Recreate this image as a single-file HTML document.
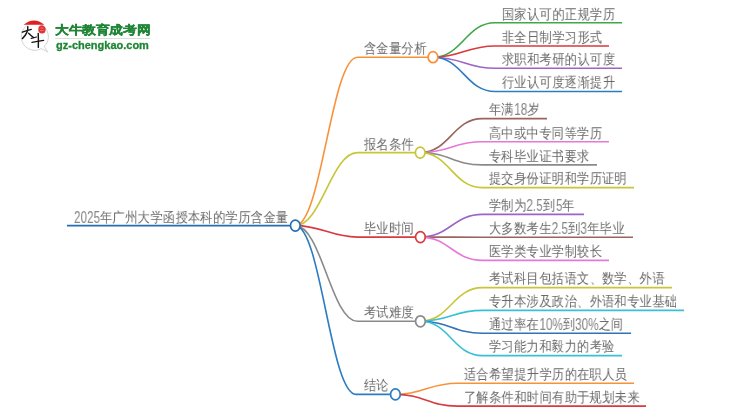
<!DOCTYPE html>
<html><head><meta charset="utf-8"><style>
html,body{margin:0;padding:0;background:#fff;width:750px;height:410px;overflow:hidden}
body{position:relative;font-family:"Liberation Sans",sans-serif}
.t{position:absolute;line-height:17.28px;white-space:nowrap;transform-origin:0 0;will-change:transform}
svg.m{position:absolute;left:0;top:0}
.d{display:inline-block;font-size:17px;letter-spacing:0;transform:scaleX(0.79);transform-origin:0 100%;vertical-align:-1px;line-height:1px;color:#858585}
svg.m path{fill:none;stroke-width:1.6px}
svg.m ellipse{fill:#fff;stroke-width:1.7px}
</style></head><body>
<svg class="m" width="750" height="410" viewBox="0 0 750 410">
<path d="M67 225.6 H295.3" stroke="#2270b4"/>
<path d="M295.3 225.6 C321.42 225.6 331.38 57.2 357.5 57.2 H433.0" stroke="#f8923a"/>
<path d="M433.0 57.2 C462.14 57.2 465.86 22.80 495.00 22.80 H622" stroke="#3ca846"/>
<path d="M433.0 57.2 C462.14 57.2 465.86 46.00 495.00 46.00 H609" stroke="#d93a40"/>
<path d="M433.0 57.2 C462.14 57.2 465.86 68.30 495.00 68.30 H622" stroke="#9c64c8"/>
<path d="M433.0 57.2 C462.14 57.2 465.86 91.50 495.00 91.50 H622" stroke="#2d7cc1"/>
<path d="M295.3 225.6 C321.42 225.6 331.38 152.6 357.5 152.6 H420.2" stroke="#c8c538"/>
<path d="M420.2 152.6 C449.34 152.6 453.06 118.60 482.20 118.60 H547" stroke="#9a645c"/>
<path d="M420.2 152.6 C449.34 152.6 453.06 141.70 482.20 141.70 H609" stroke="#e678d8"/>
<path d="M420.2 152.6 C449.34 152.6 453.06 164.90 482.20 164.90 H597" stroke="#8a8a8a"/>
<path d="M420.2 152.6 C449.34 152.6 453.06 187.60 482.20 187.60 H634" stroke="#c8c538"/>
<path d="M295.3 225.6 C321.42 225.6 331.38 237.1 357.5 237.1 H420.4" stroke="#d93a40"/>
<path d="M420.4 237.1 C449.54 237.1 453.26 214.40 482.40 214.40 H584" stroke="#9c64c8"/>
<path d="M420.4 237.1 C449.54 237.1 453.26 237.20 482.40 237.20 H633" stroke="#9a645c"/>
<path d="M420.4 237.1 C449.54 237.1 453.26 260.40 482.40 260.40 H609" stroke="#e678d8"/>
<path d="M295.3 225.6 C321.42 225.6 331.38 321.3 357.5 321.3 H420.4" stroke="#8a8a8a"/>
<path d="M420.4 321.3 C449.54 321.3 453.26 287.60 482.40 287.60 H672" stroke="#c8c538"/>
<path d="M420.4 321.3 C449.54 321.3 453.26 310.40 482.40 310.40 H684" stroke="#38c0d5"/>
<path d="M420.4 321.3 C449.54 321.3 453.26 333.20 482.40 333.20 H631" stroke="#3273b5"/>
<path d="M420.4 321.3 C449.54 321.3 453.26 355.60 482.40 355.60 H622" stroke="#38c0d5"/>
<path d="M295.3 225.6 C320.79 225.6 330.51 394.4 356.0 394.4 H395.4" stroke="#2d7cc1"/>
<path d="M395.4 394.4 C424.54 394.4 428.26 383.30 457.40 383.30 H634" stroke="#f8923a"/>
<path d="M395.4 394.4 C424.54 394.4 428.26 406.10 457.40 406.10 H646" stroke="#d93a40"/>
<ellipse cx="433.0" cy="57.2" rx="4.85" ry="5.5" stroke="#f8923a"/>
<ellipse cx="420.2" cy="152.6" rx="4.85" ry="5.5" stroke="#c8c538"/>
<ellipse cx="420.4" cy="237.1" rx="4.85" ry="5.5" stroke="#d93a40"/>
<ellipse cx="420.4" cy="321.3" rx="4.85" ry="5.5" stroke="#8a8a8a"/>
<ellipse cx="395.4" cy="394.4" rx="4.85" ry="5.5" stroke="#2d7cc1"/>
<ellipse cx="295.3" cy="225.6" rx="4.85" ry="5.5" stroke="#2270b4"/>
</svg>
<div class="t" style="left:73.75px;top:208.98px;font-size:14.4px;letter-spacing:0.45px;transform:scaleX(0.87);color:#6a6a6a"><span class="d" style="margin-right:-7.94px">2025</span>年广州大学函授本科的学历含金量</div>
<div class="t" style="left:363.95px;top:40.28px;font-size:14.4px;letter-spacing:0.45px;transform:scaleX(0.87);color:#6a6a6a">含金量分析</div>
<div class="t" style="left:501.75px;top:5.68px;font-size:14.4px;letter-spacing:0.45px;transform:scaleX(0.87);color:#6a6a6a">国家认可的正规学历</div>
<div class="t" style="left:501.75px;top:28.88px;font-size:14.4px;letter-spacing:0.45px;transform:scaleX(0.87);color:#6a6a6a">非全日制学习形式</div>
<div class="t" style="left:501.75px;top:51.18px;font-size:14.4px;letter-spacing:0.45px;transform:scaleX(0.87);color:#6a6a6a">求职和考研的认可度</div>
<div class="t" style="left:501.75px;top:74.38px;font-size:14.4px;letter-spacing:0.45px;transform:scaleX(0.87);color:#6a6a6a">行业认可度逐渐提升</div>
<div class="t" style="left:363.95px;top:135.68px;font-size:14.4px;letter-spacing:0.45px;transform:scaleX(0.87);color:#6a6a6a">报名条件</div>
<div class="t" style="left:488.95px;top:101.48px;font-size:14.4px;letter-spacing:0.45px;transform:scaleX(0.87);color:#6a6a6a">年满<span class="d" style="margin-right:-3.97px">18</span>岁</div>
<div class="t" style="left:488.95px;top:124.58px;font-size:14.4px;letter-spacing:0.45px;transform:scaleX(0.87);color:#6a6a6a">高中或中专同等学历</div>
<div class="t" style="left:488.95px;top:147.78px;font-size:14.4px;letter-spacing:0.45px;transform:scaleX(0.87);color:#6a6a6a">专科毕业证书要求</div>
<div class="t" style="left:488.95px;top:170.48px;font-size:14.4px;letter-spacing:0.45px;transform:scaleX(0.87);color:#6a6a6a">提交身份证明和学历证明</div>
<div class="t" style="left:363.95px;top:220.18px;font-size:14.4px;letter-spacing:0.45px;transform:scaleX(0.87);color:#6a6a6a">毕业时间</div>
<div class="t" style="left:489.15px;top:197.28px;font-size:14.4px;letter-spacing:0.45px;transform:scaleX(0.87);color:#6a6a6a">学制为<span class="d" style="margin-right:-4.96px">2.5</span>到<span class="d" style="margin-right:-1.99px">5</span>年</div>
<div class="t" style="left:489.15px;top:220.08px;font-size:14.4px;letter-spacing:0.45px;transform:scaleX(0.87);color:#6a6a6a">大多数考生<span class="d" style="margin-right:-4.96px">2.5</span>到<span class="d" style="margin-right:-1.99px">3</span>年毕业</div>
<div class="t" style="left:489.15px;top:243.28px;font-size:14.4px;letter-spacing:0.45px;transform:scaleX(0.87);color:#6a6a6a">医学类专业学制较长</div>
<div class="t" style="left:363.95px;top:304.38px;font-size:14.4px;letter-spacing:0.45px;transform:scaleX(0.87);color:#6a6a6a">考试难度</div>
<div class="t" style="left:489.15px;top:270.48px;font-size:14.4px;letter-spacing:0.45px;transform:scaleX(0.87);color:#6a6a6a">考试科目包括语文、数学、外语</div>
<div class="t" style="left:489.15px;top:293.28px;font-size:14.4px;letter-spacing:0.45px;transform:scaleX(0.87);color:#6a6a6a">专升本涉及政治、外语和专业基础</div>
<div class="t" style="left:489.15px;top:316.08px;font-size:14.4px;letter-spacing:0.45px;transform:scaleX(0.87);color:#6a6a6a">通过率在<span class="d" style="margin-right:-7.15px">10%</span>到<span class="d" style="margin-right:-7.15px">30%</span>之间</div>
<div class="t" style="left:489.15px;top:338.48px;font-size:14.4px;letter-spacing:0.45px;transform:scaleX(0.87);color:#6a6a6a">学习能力和毅力的考验</div>
<div class="t" style="left:363.95px;top:377.48px;font-size:14.4px;letter-spacing:0.45px;transform:scaleX(0.87);color:#6a6a6a">结论</div>
<div class="t" style="left:464.15px;top:366.18px;font-size:14.4px;letter-spacing:0.45px;transform:scaleX(0.87);color:#6a6a6a">适合希望提升学历的在职人员</div>
<div class="t" style="left:464.15px;top:388.98px;font-size:14.4px;letter-spacing:0.45px;transform:scaleX(0.87);color:#6a6a6a">了解条件和时间有助于规划未来</div>

<svg class="logo" width="60" height="60" viewBox="0 0 60 60" style="position:absolute;left:0;top:0">
  <path d="M44.2 46.6 A13.6 13.6 0 1 0 41.5 48.6 L47.8 52 Z" fill="#fff" stroke="#cfcfcf" stroke-width="0.9"/>
  <path d="M23.6 24.8 Q34 16 44.4 24.8 Z" fill="#e21e1e"/>
  <path d="M38.6 27 Q40 24.8 43 25.4 Q46 26.5 45.6 30 Q45.4 33.6 42 33.6 Q38.4 33.4 38.3 30 Z" fill="#e03434"/>
  <path d="M40.5 28 h3 M40.2 30.5 h3.4" stroke="#f6b0b0" stroke-width="0.5"/>
  <path d="M22.3 32.2 Q27 30.4 31.3 29.4" stroke="#151515" stroke-width="1.35" fill="none" stroke-linecap="round"/>
  <path d="M27.8 26.8 Q28.3 33 22.4 38.6" stroke="#151515" stroke-width="1.45" fill="none" stroke-linecap="round"/>
  <path d="M28.6 33.2 Q31 35.6 33.6 37.6" stroke="#151515" stroke-width="1.3" fill="none" stroke-linecap="round"/>
  <path d="M31.2 38.4 L36.6 37" stroke="#151515" stroke-width="1.2" fill="none" stroke-linecap="round"/>
  <path d="M32 42.4 Q37 41.2 43.6 40.4" stroke="#151515" stroke-width="1.35" fill="none" stroke-linecap="round"/>
  <path d="M38.2 33.5 Q38.6 40 38.3 47.4" stroke="#151515" stroke-width="1.45" fill="none" stroke-linecap="round"/>
</svg>
<div style="position:absolute;left:54.5px;top:24.0px;font-size:11.8px;line-height:13px;letter-spacing:-0.18px;font-weight:bold;color:#1f8536;white-space:nowrap;-webkit-text-stroke:0.3px #1f8536;transform:scaleX(1.15);transform-origin:0 0;will-change:transform">大牛教育成考网</div>
<div style="position:absolute;left:54.5px;top:38.2px;width:95.5px;height:1px;background:#d5e3d5"></div>
<div style="position:absolute;left:55.5px;top:38.5px;font-size:11px;line-height:13px;font-weight:bold;color:#1f8536;white-space:nowrap;-webkit-text-stroke:0.3px #1f8536;transform:scaleX(1.0);transform-origin:0 0;will-change:transform">gz-chengkao.com</div>

</body></html>
